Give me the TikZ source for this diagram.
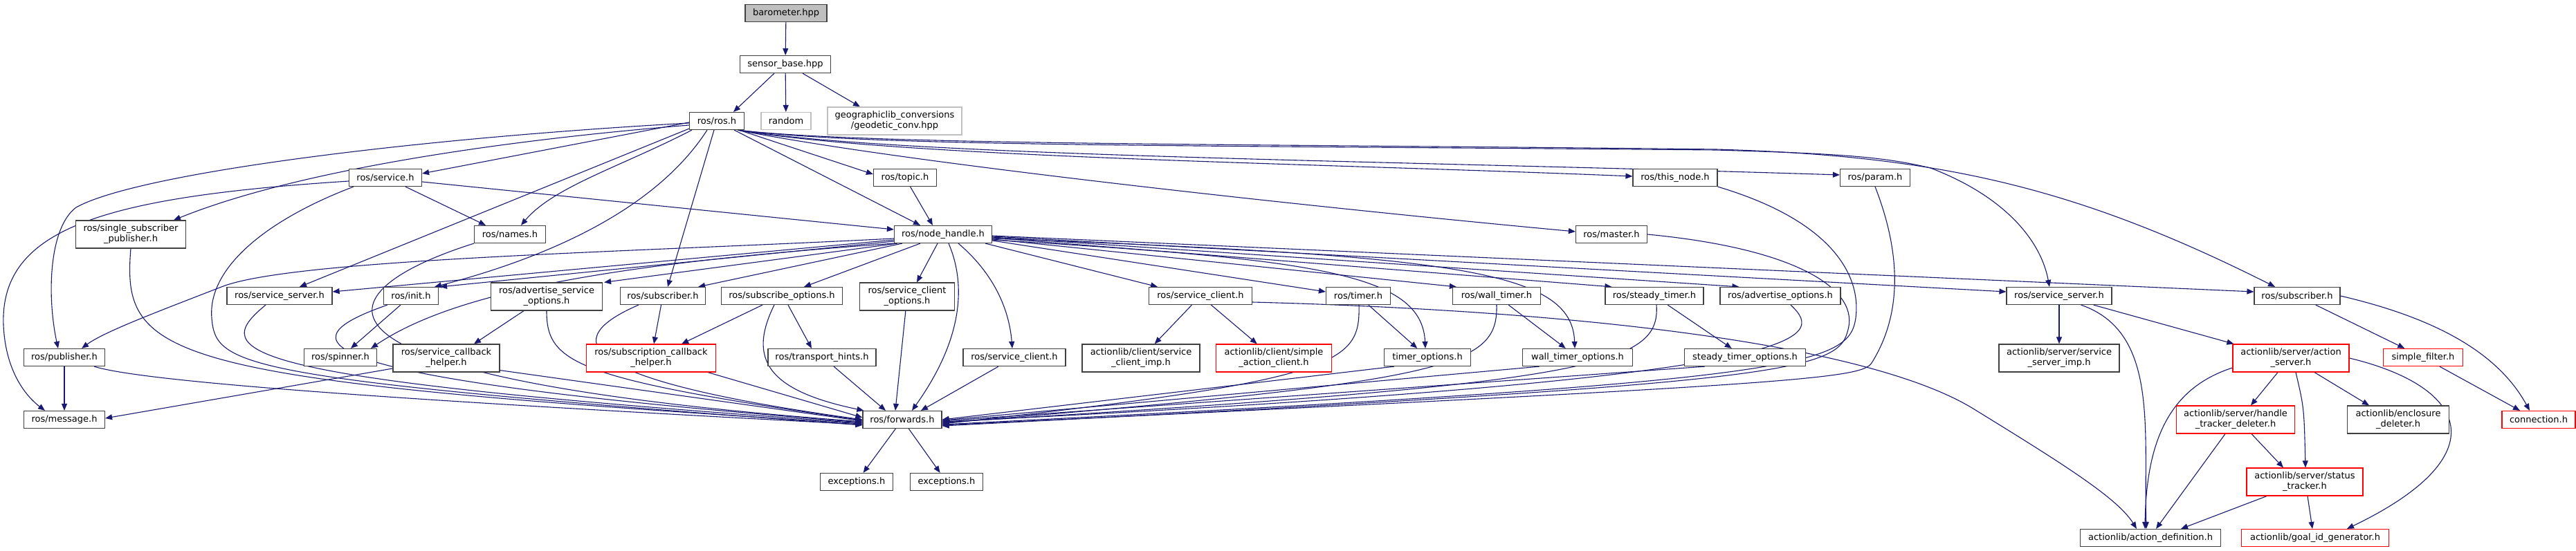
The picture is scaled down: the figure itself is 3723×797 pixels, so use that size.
\documentclass[tikz,border=0pt]{standalone}
\usepackage{fontspec}
\setmainfont{DejaVu Sans}
\usetikzlibrary{arrows.meta,calc}
\pgfdeclarelayer{edgelayer}
\pgfsetlayers{edgelayer,main}
\definecolor{edgecol}{RGB}{25,25,112}
\definecolor{boxcol}{RGB}{64,64,64}
\definecolor{greycol}{RGB}{191,191,191}
\definecolor{redcol}{RGB}{255,0,0}
\begin{document}
\begin{tikzpicture}[x=0.5pt,y=-0.5pt,
  box/.style={draw=boxcol, fill=white, line width=0.6pt, inner sep=0pt, align=center,
    font=\fontsize{6.5pt}{7.5pt}\selectfont, minimum height=12.5pt},
  two/.style={minimum height=20pt},
  bw/.style={minimum width=#1*0.5pt},
  redbox/.style={draw=redcol},
  greybox/.style={draw=greycol},
  rootbox/.style={fill=greycol},
  edge/.style={draw=edgecol, line width=0.55pt, -{Triangle[length=5pt,width=4pt]}}]
\useasboundingbox (0,0) rectangle (3723,797);
% nodes
\node[box,rootbox,bw=118] (bar) at (1136,19) {barometer.hpp};
\node[box,bw=131] (sb) at (1135,93) {sensor\_base.hpp};
\node[box,bw=79] (ros) at (1036,175) {ros/ros.h};
\node[box,greybox,bw=72] (random) at (1136,175) {random};
\node[box,greybox,two,bw=194] (geo) at (1293,175) {geographiclib\_conversions\\/geodetic\_conv.hpp};
\node[box,bw=105] (service) at (557,257) {ros/service.h};
\node[box,two,bw=159] (ssp) at (189,339) {ros/single\_subscriber\\\_publisher.h};
\node[box,bw=103] (names) at (737,339) {ros/names.h};
\node[box,bw=91] (topic) at (1308,257) {ros/topic.h};
\node[box,bw=141] (nh) at (1363,339) {ros/node\_handle.h};
\node[box,bw=122] (thisnode) at (2421,257) {ros/this\_node.h};
\node[box,bw=103] (master) at (2329,339) {ros/master.h};
\node[box,bw=101] (param) at (2710,257) {ros/param.h};
\node[box,bw=152] (ssL) at (404,428) {ros/service\_server.h};
\node[box,bw=79] (init) at (594,428) {ros/init.h};
\node[box,bw=117] (publisher) at (93,517) {ros/publisher.h};
\node[box,bw=117] (message) at (93,607) {ros/message.h};
\node[box,bw=105] (spinner) at (492,517) {ros/spinner.h};
\node[box,two,bw=154] (scbh) at (645,518) {ros/service\_callback\\\_helper.h};
\node[box,two,bw=161] (aso) at (790,429) {ros/advertise\_service\\\_options.h};
\node[box,bw=123] (subL) at (958,428) {ros/subscriber.h};
\node[box,bw=175] (so) at (1130,428) {ros/subscribe\_options.h};
\node[box,redbox,two,bw=187] (sch) at (941,518) {ros/subscription\_callback\\\_helper.h};
\node[box,bw=156] (th) at (1188,517) {ros/transport\_hints.h};
\node[box,two,bw=137] (sco) at (1311,429) {ros/service\_client\\\_options.h};
\node[box,bw=148] (scLow) at (1466,517) {ros/service\_client.h};
\node[box,bw=114] (fwd) at (1304,607) {ros/forwards.h};
\node[box,bw=105] (excL) at (1238,697) {exceptions.h};
\node[box,bw=105] (excR) at (1368,697) {exceptions.h};
\node[box,bw=149] (scUp) at (1735,428) {ros/service\_client.h};
\node[box,two,bw=170] (scimp) at (1649,518) {actionlib/client/service\\\_client\_imp.h};
\node[box,redbox,two,bw=167] (sac) at (1841,518) {actionlib/client/simple\\\_action\_client.h};
\node[box,bw=93] (timer) at (1963,428) {ros/timer.h};
\node[box,bw=127] (wtimer) at (2163,428) {ros/wall\_timer.h};
\node[box,bw=142] (stimer) at (2391,428) {ros/steady\_timer.h};
\node[box,bw=125] (to) at (2063,517) {timer\_options.h};
\node[box,bw=159] (wto) at (2280,517) {wall\_timer\_options.h};
\node[box,bw=175] (sto) at (2522,517) {steady\_timer\_options.h};
\node[box,bw=174] (ao) at (2573,428) {ros/advertise\_options.h};
\node[box,bw=152] (ssR) at (2976,428) {ros/service\_server.h};
\node[box,two,bw=174] (ssimp) at (2976,518) {actionlib/server/service\\\_server\_imp.h};
\node[box,bw=203] (adef) at (3108,778) {actionlib/action\_definition.h};
\node[box,bw=124] (subR) at (3320,428) {ros/subscriber.h};
\node[box,redbox,two,bw=168] (as) at (3311,518) {actionlib/server/action\\\_server.h};
\node[box,redbox,bw=115] (sf) at (3502,517) {simple\_filter.h};
\node[box,redbox,bw=106] (conn) at (3669,607) {connection.h};
\node[box,redbox,two,bw=171] (htd) at (3231,607) {actionlib/server/handle\\\_tracker\_deleter.h};
\node[box,two,bw=147] (ed) at (3466,607) {actionlib/enclosure\\\_deleter.h};
\node[box,redbox,two,bw=168] (st) at (3331,697) {actionlib/server/status\\\_tracker.h};
\node[box,redbox,bw=213] (gid) at (3346,778) {actionlib/goal\_id\_generator.h};

\begin{pgfonlayer}{edgelayer}
% top
\draw[edge] (bar) -- (sb);
\draw[edge] ($(sb.south)+(-16,0)$) -- ($(ros.north)+(24,0)$);
\draw[edge] (sb) -- (random);
\draw[edge] ($(sb.south)+(25,0)$) -- ($(geo.north)+(-50,0)$);
% ros.h, left side
\draw[edge] ($(ros.west)+(0,2)$) -- ($(service.east)+(0,-6)$);
\draw[edge] ($(ros.west)+(0,6)$) .. controls (700,205) and (420,250) .. ($(ssp.north)+(62,0)$);
\draw[edge] ($(ros.west)+(0,3)$) .. controls (600,200) and (200,250) .. (110,300) .. controls (70,330) and (68,430) .. ($(publisher.north)+(-9,0)$);
\draw[edge] ($(ros.south west)+(4,0)$) .. controls (900,240) and (800,270) .. ($(names.north)+(16,0)$);
\draw[edge] ($(ros.south)+(-14,0)$) .. controls (950,300) and (800,370) .. ($(init.north east)+(-6,0)$);
\draw[edge] ($(ros.south west)+(0,-2)$) -- ($(ssL.north)+(29,0)$);
\draw[edge] ($(ros.south)+(-4,0)$) -- ($(subL.north)+(7,0)$);
% ros.h, right side
\draw[edge] ($(ros.south east)+(-15,0)$) -- ($(nh.north)+(-33,0)$);
\draw[edge] ($(ros.south east)+(-8,0)$) -- ($(topic.west)+(0,-5)$);
\draw[edge] ($(ros.south east)+(-10,0)$) .. controls (1300,235) and (1900,300) .. ($(master.west)+(0,-4)$);
\draw[edge] ($(ros.south east)+(-10,0)$) .. controls (1300,228) and (1900,236) .. ($(thisnode.west)+(0,-2)$);
\draw[edge] ($(ros.south east)+(-10,0)$) .. controls (1300,226) and (2000,232) .. ($(param.west)+(0,-4)$);
\draw[edge] ($(ros.south east)+(-10,0)$) .. controls (1250,212) and (1700,210) .. (2480,217) .. controls (2650,222) and (2720,226) .. (2790,243) .. controls (2900,285) and (2950,350) .. ($(ssR.north)+(-14,0)$);
\draw[edge] ($(ros.south east)+(-10,0)$) .. controls (1250,210) and (1800,208) .. (2480,216) .. controls (2800,225) and (3000,270) .. ($(subR.north)+(-32,0)$);
% service.h
\draw[edge] ($(service.west)+(0,5)$) .. controls (150,285) and (0,330) .. (5,470) .. controls (8,540) and (40,575) .. ($(message.north)+(-28,0)$);
\draw[edge] ($(service.south east)+(-24,0)$) -- ($(names.north)+(-35,0)$);
\draw[edge] ($(service.east)+(0,6)$) -- ($(nh.west)+(0,-7)$);
\draw[edge] ($(service.south west)+(7,0)$) .. controls (380,320) and (300,390) .. (306,460) .. controls (312,530) and (340,548) .. ($(fwd.west)+(0,8)$);
% topic
\draw[edge] (topic) -- ($(nh.north)+(-15,0)$);
% node_handle
\draw[edge] ($(nh.west)+(0,6)$) .. controls (900,365) and (420,375) .. (320,415) .. controls (230,450) and (150,480) .. ($(publisher.north east)+(-34,0)$);
\draw[edge] ($(nh.west)+(0,8)$) -- ($(ssL.east)+(0,-6)$);
\draw[edge] ($(nh.west)+(0,10)$) -- ($(init.north east)+(2,0)$);
\draw[edge] (nh.south west) .. controls (900,380) and (660,420) .. ($(spinner.north east)+(-9,0)$);
\draw[edge] ($(nh.south west)+(5,0)$) -- ($(aso.north east)+(2,0)$);
\draw[edge] ($(nh.south west)+(12,0)$) -- ($(subL.north east)+(-11,0)$);
\draw[edge] ($(nh.south)+(-33,0)$) -- ($(so.north)+(32,0)$);
\draw[edge] ($(nh.south)+(-8,0)$) -- ($(sco.north)+(14,0)$);
\draw[edge] ($(nh.south)+(8,0)$) .. controls (1400,420) and (1385,500) .. ($(fwd.north)+(14,0)$);
\draw[edge] ($(nh.south)+(22,0)$) .. controls (1430,390) and (1458,440) .. ($(scLow.north)+(-3,0)$);
\draw[edge] ($(nh.south east)+(-10,0)$) -- ($(scUp.north)+(-62,0)$);
\draw[edge] ($(nh.east)+(0,9)$) -- ($(timer.west)+(0,-6)$);
\draw[edge] ($(nh.east)+(0,8)$) .. controls (1900,375) and (2055,395) .. ($(to.north)+(-3,0)$);
\draw[edge] ($(nh.east)+(0,7)$) -- ($(wtimer.north west)+(6,0)$);
\draw[edge] ($(nh.east)+(0,6)$) .. controls (2100,370) and (2272,390) .. ($(wto.north)+(-4,0)$);
\draw[edge] ($(nh.east)+(0,5)$) -- ($(stimer.north west)+(10,0)$);
\draw[edge] ($(nh.east)+(0,4)$) -- ($(ao.north west)+(28,0)$);
\draw[edge] ($(nh.east)+(0,3)$) -- ($(ssR.west)+(0,-6)$);
\draw[edge] ($(nh.east)+(0,2)$) -- ($(subR.west)+(0,-6)$);
% left group to forwards
\draw[edge] (ssp.south) .. controls (176,520) and (230,550) .. ($(fwd.west)+(0,6)$);
\draw[edge] ($(publisher.south east)+(-16,0)$) .. controls (200,550) and (500,575) .. ($(fwd.west)+(0,7)$);
\draw[edge] (publisher) -- (message);
\draw[edge] ($(ssL.south)+(-20,0)$) .. controls (300,510) and (330,548) .. ($(fwd.west)+(0,5)$);
\draw[edge] (init) -- (spinner);
\draw[edge] ($(init.south west)+(6,0)$) .. controls (420,490) and (395,545) .. ($(fwd.west)+(0,4)$);
\draw[edge] (names.south west) .. controls (470,420) and (375,545) .. ($(fwd.west)+(0,3)$);
\draw[edge] ($(scbh.west)+(0,15)$) -- ($(message.east)+(0,-2)$);
\draw[edge] ($(scbh.south east)+(0,-3)$) -- ($(fwd.west)+(0,2)$);
\draw[edge] ($(aso.south)+(-33,0)$) -- ($(scbh.north)+(40,0)$);
\draw[edge] (aso.south) .. controls (790,525) and (830,548) .. ($(fwd.west)+(0,1)$);
\draw[edge] (subL) -- ($(sch.north)+(4,0)$);
\draw[edge] ($(subL.south west)+(27,0)$) .. controls (810,490) and (820,548) .. (fwd.west);
\draw[edge] ($(so.south)+(-28,0)$) -- ($(sch.north east)+(-50,0)$);
\draw[edge] ($(so.south)+(-11,0)$) .. controls (1080,520) and (1110,565) .. ($(fwd.north west)+(2,0)$);
\draw[edge] ($(so.south)+(9,0)$) -- ($(th.north)+(-15,0)$);
\draw[edge] ($(sch.south east)+(-12,0)$) -- ($(fwd.west)+(0,-3)$);
\draw[edge] ($(th.south)+(17,0)$) -- ($(fwd.north)+(-24,0)$);
\draw[edge] (sco) -- ($(fwd.north)+(-10,0)$);
\draw[edge] ($(scLow.south)+(-23,0)$) -- ($(fwd.north)+(27,0)$);
\draw[edge] (fwd) -- (excL);
\draw[edge] (fwd) -- (excR);
% actionlib client
\draw[edge] (scUp) -- (scimp);
\draw[edge] (scUp) -- (sac);
\draw[edge] ($(scUp.east)+(0,9)$) .. controls (2300,450) and (2700,500) .. (2850,590) .. controls (2980,670) and (3060,720) .. ($(adef.north)+(-20,0)$);
% timers and right group to forwards
\draw[edge] ($(timer.south)+(1,0)$) .. controls (1966,525) and (1940,550) .. ($(fwd.east)+(0,6)$);
\draw[edge] (timer) -- (to);
\draw[edge] ($(to.south west)+(15,0)$) -- (fwd.east);
\draw[edge] (wtimer.south) .. controls (2165,530) and (2100,552) .. ($(fwd.east)+(0,5)$);
\draw[edge] (wtimer) -- (wto);
\draw[edge] ($(wto.south west)+(25,0)$) -- ($(fwd.east)+(0,1)$);
\draw[edge] ($(stimer.south)+(3,0)$) .. controls (2400,530) and (2300,555) .. ($(fwd.east)+(0,4)$);
\draw[edge] (stimer) -- (sto);
\draw[edge] ($(sto.south west)+(30,0)$) -- ($(fwd.east)+(0,2)$);
\draw[edge] ($(ao.south)+(15,0)$) .. controls (2640,490) and (2640,548) .. ($(fwd.east)+(0,3)$);
\draw[edge] (thisnode.south east) .. controls (2650,320) and (2690,400) .. (2682,460) .. controls (2672,530) and (2600,552) .. ($(fwd.east)+(0,7)$);
\draw[edge] (param.south) .. controls (2745,360) and (2752,450) .. (2705,525) .. controls (2690,548) and (2600,556) .. ($(fwd.east)+(0,8)$);
\draw[edge] (master.east) .. controls (2600,360) and (2690,420) .. (2670,480) .. controls (2655,540) and (2550,555) .. ($(fwd.east)+(0,9)$);
% actionlib server
\draw[edge] (ssR) -- (ssimp);
\draw[edge] ($(ssR.south east)+(-45,0)$) .. controls (3120,480) and (3098,620) .. ($(adef.north)+(-6,0)$);
\draw[edge] ($(ssR.south east)+(-27,0)$) -- ($(as.north west)+(2,0)$);
\draw[edge] (subR) -- (sf);
\draw[edge] (subR.east) .. controls (3520,460) and (3610,510) .. ($(conn.north)+(-13,0)$);
\draw[edge] (sf) -- ($(conn.north)+(-27,0)$);
\draw[edge] ($(as.west)+(0,14)$) .. controls (3140,560) and (3102,630) .. ($(adef.north)+(-8,0)$);
\draw[edge] ($(as.south)+(-19,0)$) -- ($(htd.north)+(22,0)$);
\draw[edge] ($(as.south)+(7,0)$) .. controls (3330,590) .. ($(st.north)+(1,0)$);
\draw[edge] ($(as.south)+(34,0)$) -- ($(ed.north)+(-42,0)$);
\draw[edge] (as.east) .. controls (3570,560) and (3610,660) .. ($(gid.north)+(46,0)$);
\draw[edge] ($(htd.south)+(23,0)$) -- ($(st.north)+(-31,0)$);
\draw[edge] ($(htd.south)+(-15,0)$) -- ($(adef.north)+(8,0)$);
\draw[edge] ($(st.south)+(-55,0)$) -- ($(adef.north)+(44,0)$);
\draw[edge] ($(st.south)+(4,0)$) -- ($(gid.north)+(-4,0)$);
\end{pgfonlayer}
\end{tikzpicture}
\end{document}
